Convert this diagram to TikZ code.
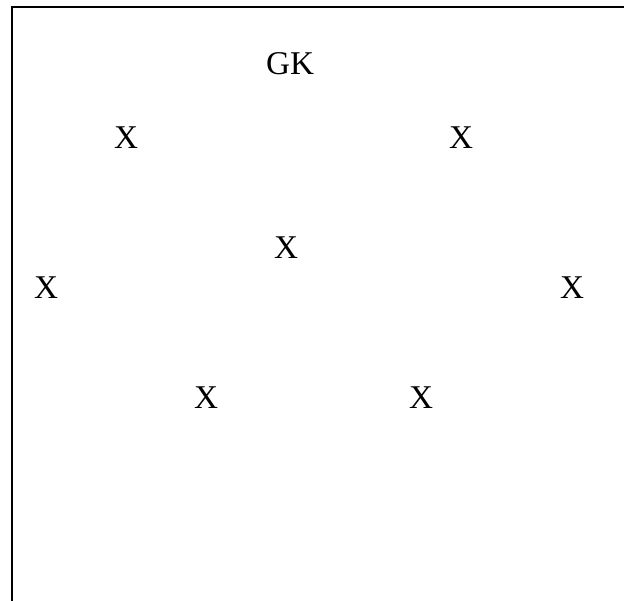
\documentclass[tikz,border=0pt]{standalone}
\usepackage{fontspec}
\setmainfont{Liberation Serif}
\usepackage{tikz}
\usetikzlibrary{positioning}

\begin{document}
\begin{tikzpicture}[
  x=0.5pt,y=-0.5pt,
  player/.style={inner sep=0pt,font=\fontsize{16.6}{20}\selectfont},
  frame/.style={draw=black,line width=1pt}
]
\useasboundingbox (0,0) rectangle (624,600);
\clip (0,0) rectangle (624,600);
\draw[frame] (12,7) rectangle (660,640);
\node[player] (gk) at (290,64) {GK};
\node[player] (dl) at (126,138) {X};
\node[player] (dr) at (461,138) {X};
\node[player] (mc) at (286,248) {X};
\node[player] (ml) at (46,288) {X};
\node[player] (mr) at (572,288) {X};
\node[player] (fl) at (206,398) {X};
\node[player] (fr) at (421,398) {X};
\end{tikzpicture}
\end{document}
